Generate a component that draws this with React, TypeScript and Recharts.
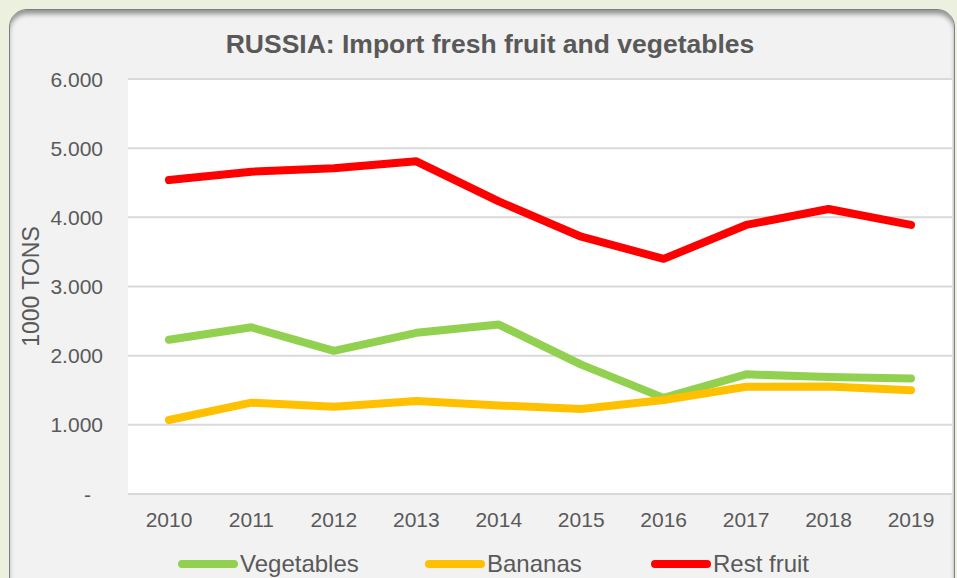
import { LineChart, Line, XAxis, YAxis, CartesianGrid } from "recharts";

const years = ["2010", "2011", "2012", "2013", "2014", "2015", "2016", "2017", "2018", "2019"];
const vegetables = [2230, 2410, 2070, 2330, 2450, 1870, 1390, 1730, 1690, 1670];
const bananas = [1070, 1320, 1260, 1345, 1280, 1230, 1360, 1550, 1555, 1500];
const restFruit = [4540, 4660, 4710, 4810, 4230, 3720, 3400, 3890, 4120, 3890];
const yTicks = [0, 1000, 2000, 3000, 4000, 5000, 6000];

const data = years.map((year, i) => ({
  year,
  vegetables: vegetables[i],
  bananas: bananas[i],
  restFruit: restFruit[i],
}));

const FONT = '"Liberation Sans", Arial, sans-serif';
const TEXT = "#595959";

// 6000 -> "6.000", 0 -> "-"
const fmt = (v: number) => (v === 0 ? "-" : `${v / 1000}.000`);

const YTick = (props: any) => {
  const { x, y, payload } = props;
  return (
    <text
      x={payload.value === 0 ? x - 12 : x}
      y={y}
      dy={7.5}
      textAnchor="end"
      fill={TEXT}
      fontSize={21}
      fontFamily={FONT}
    >
      {fmt(payload.value)}
    </text>
  );
};

const legendItems = [
  { label: "Vegetables", color: "#92d050", left: 178 },
  { label: "Bananas", color: "#ffc000", left: 425 },
  { label: "Rest fruit", color: "#ff0000", left: 651 },
];

export default function App() {
  return (
    <div
      style={{
        position: "absolute",
        left: 0,
        top: 0,
        width: 957,
        height: 578,
        background: "#ebf1de",
        overflow: "hidden",
        fontFamily: FONT,
      }}
    >
      <div
        style={{
          position: "absolute",
          left: 9,
          top: 9,
          width: 944,
          height: 590,
          borderRadius: 18,
          background: "#f2f2f2",
          border: "1.5px solid #7f7f7f",
          boxShadow: "inset 0 5px 5px -1px rgba(0,0,0,0.4)",
        }}
      />
      <div
        style={{
          position: "absolute",
          left: 0,
          top: 27,
          width: 980,
          textAlign: "center",
          fontSize: 26.5,
          fontWeight: "bold",
          color: TEXT,
          lineHeight: "34px",
        }}
      >
        RUSSIA: Import fresh fruit and vegetables
      </div>
      <div style={{ position: "absolute", left: 0, top: 0 }}>
        <LineChart
          width={957}
          height={578}
          data={data}
          margin={{ top: 79, right: 5, bottom: 44, left: 0 }}
        >
          <CartesianGrid vertical={false} stroke="#d9d9d9" strokeWidth={2} fill="#ffffff" />
          <XAxis
            dataKey="year"
            axisLine={false}
            tickLine={false}
            tickSize={0}
            tickMargin={18}
            height={40}
            padding={{ left: 41, right: 41 }}
            tick={{ fill: TEXT, fontSize: 21, fontFamily: FONT }}
          />
          <YAxis
            domain={[0, 6000]}
            ticks={yTicks}
            width={128}
            axisLine={false}
            tickLine={false}
            tickSize={0}
            tickMargin={25}
            tick={<YTick />}
            label={{
              value: "1000 TONS",
              angle: -90,
              position: "insideLeft",
              offset: 31,
              style: { textAnchor: "middle", fill: TEXT, fontSize: 23, fontFamily: FONT },
            }}
          />
          <Line
            dataKey="vegetables"
            stroke="#92d050"
            strokeWidth={8}
            strokeLinecap="round"
            strokeLinejoin="round"
            dot={false}
            isAnimationActive={false}
          />
          <Line
            dataKey="bananas"
            stroke="#ffc000"
            strokeWidth={8}
            strokeLinecap="round"
            strokeLinejoin="round"
            dot={false}
            isAnimationActive={false}
          />
          <Line
            dataKey="restFruit"
            stroke="#ff0000"
            strokeWidth={8}
            strokeLinecap="round"
            strokeLinejoin="round"
            dot={false}
            isAnimationActive={false}
          />
        </LineChart>
      </div>
      {legendItems.map((it) => (
        <div
          key={it.label}
          style={{
            position: "absolute",
            left: it.left,
            top: 549,
            height: 30,
            display: "flex",
            alignItems: "center",
            fontSize: 24,
            color: TEXT,
          }}
        >
          <div
            style={{ width: 60, height: 8, borderRadius: 4, background: it.color, marginRight: 2 }}
          />
          <span>{it.label}</span>
        </div>
      ))}
    </div>
  );
}
